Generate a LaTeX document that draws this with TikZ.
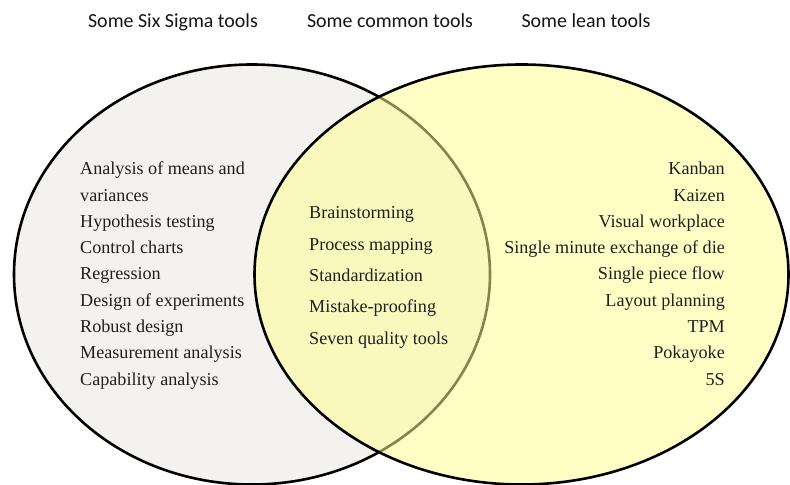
\documentclass[tikz,border=0pt]{standalone}
\usepackage{fontspec}
\setmainfont{Liberation Serif}
\newfontfamily\titlefont{Carlito}
\begin{document}
\begin{tikzpicture}[x=1bp,y=-1bp,
  title/.style={font=\titlefont\fontsize{20}{24}\selectfont, text=black!92, inner sep=0pt, text height=14bp, text depth=4bp},
  item/.style={font=\fontsize{18.2}{22}\selectfont, text=black!88, inner sep=0pt, text height=12bp, text depth=4bp},
  sixfill/.style={fill={rgb,255:red,243;green,242;blue,238}},
  leanfill/.style={fill={rgb,255:red,255;green,255;blue,145}, fill opacity=0.52}
]
\useasboundingbox (0,0) rectangle (790,485);
\fill[white] (0,0) rectangle (790,485);
% ellipses
\path[sixfill, draw=black, line width=2.6bp] (252,274.5) ellipse [x radius=238bp, y radius=210bp];
\path[leanfill] (521.5,274.5) ellipse [x radius=267bp, y radius=210bp];
\draw[black, line width=2.6bp] (521.5,274.5) ellipse [x radius=267bp, y radius=210bp];
% titles
\node[title] (t1) at (173,23) {Some Six Sigma tools};
\node[title] (t2) at (390,23) {Some common tools};
\node[title] (t3) at (586,23) {Some lean tools};
% six sigma tools
\foreach \txt [count=\i] in {Analysis of means and, variances, Hypothesis testing, Control charts, Regression, Design of experiments, Robust design, Measurement analysis, Capability analysis}
  \node[item, anchor=west] (s\i) at (80,{171+26.25*(\i-1)}) {\txt};
% common tools
\foreach \txt [count=\i] in {Brainstorming, Process mapping, Standardization, Mistake-proofing, Seven quality tools}
  \node[item, anchor=west] (c\i) at (309,{215+31.3*(\i-1)}) {\txt};
% lean tools
\foreach \txt [count=\i] in {Kanban, Kaizen, Visual workplace, Single minute exchange of die, Single piece flow, Layout planning, TPM, Pokayoke, 5S}
  \node[item, anchor=east] (l\i) at (725,{171+26.25*(\i-1)}) {\txt};
\end{tikzpicture}
\end{document}
